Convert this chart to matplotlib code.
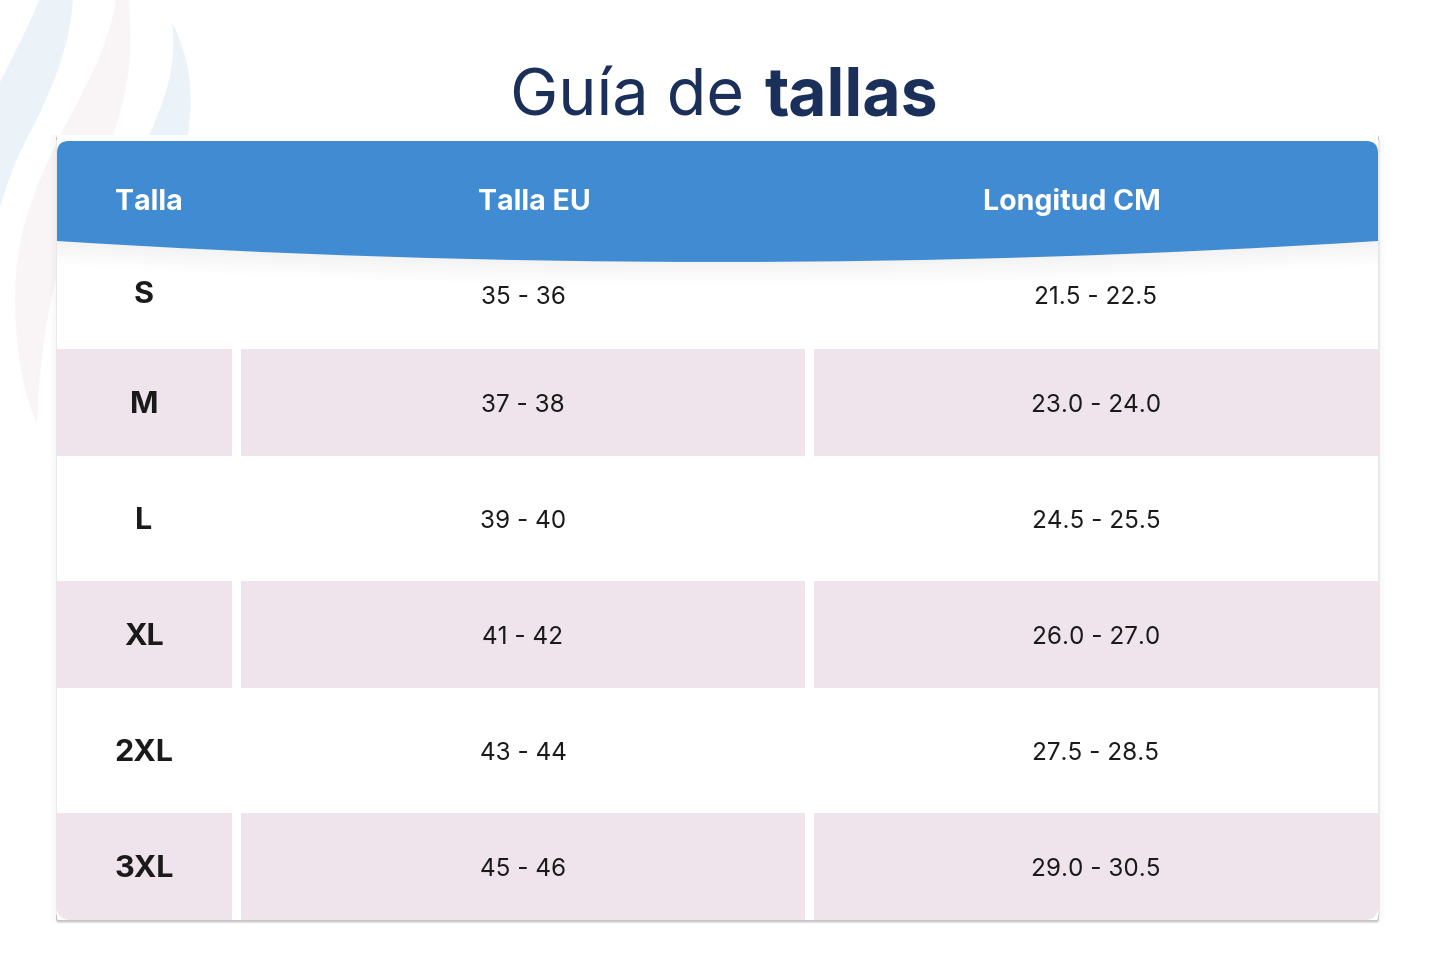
import matplotlib
matplotlib.use('Agg')
import matplotlib.pyplot as plt
from matplotlib.patches import PathPatch, Rectangle
from matplotlib.path import Path

FONT = 'Inter'

sizes = ['S', 'M', 'L', 'XL', '2XL', '3XL']
talla_eu = ['35 - 36', '37 - 38', '39 - 40', '41 - 42', '43 - 44', '45 - 46']
longitud = ['21.5 - 22.5', '23.0 - 24.0', '24.5 - 25.5', '26.0 - 27.0', '27.5 - 28.5', '29.0 - 30.5']
headers = ['Talla', 'Talla EU', 'Longitud CM']

BLUE = '#408bd1'
PINK = '#efe3ec'
NAVY = '#1b2f5b'
INK = '#1a1a1a'
W, H = 1445, 963
L, R = 57, 1378
COLS = [(57, 232), (241, 805), (814, 1378)]

fig = plt.figure(figsize=(W / 100, H / 100), dpi=100)
ax = fig.add_axes([0, 0, 1, 1])
ax.set_xlim(0, W)
ax.set_ylim(H, 0)
ax.axis('off')


def flame(verts, color):
    codes = [Path.MOVETO] + [Path.CURVE4] * (len(verts) - 2) + [Path.CLOSEPOLY]
    ax.add_patch(PathPatch(Path(verts, codes), fc=color, ec='none', zorder=1))


# background flames
flame([(40, -2), (28, 28), (12, 58), (0, 82), (-10, 110), (-10, 180), (0, 207),
       (10, 173), (20, 150), (33, 127), (50, 92), (70, 50), (73, -2), (40, -2), (40, -2)], '#ebf3f9')
flame([(115, -2), (115, 30), (90, 80), (63, 130), (30, 195), (15, 240), (15, 300),
       (15, 350), (25, 400), (37, 423), (38, 380), (45, 320), (57, 275), (80, 220), (100, 170), (113, 135),
       (125, 100), (135, 60), (128, -2), (115, -2), (115, -2)], '#f9f5f7')
flame([(172, 22), (176, 55), (172, 85), (149, 135), (165, 135), (175, 135), (188, 135),
       (194, 90), (190, 60), (172, 22), (172, 22)], '#ebf3f9')


def rounded_rect(x0, x1, y0, y1, tl=0, tr=0, br=0, bl=0, **kw):
    v = [(x0 + tl, y0), (x1 - tr, y0), (x1, y0), (x1, y0 + tr), (x1, y1 - br), (x1, y1), (x1 - br, y1),
         (x0 + bl, y1), (x0, y1), (x0, y1 - bl), (x0, y0 + tl), (x0, y0), (x0 + tl, y0), (x0 + tl, y0)]
    c = [Path.MOVETO, Path.LINETO, Path.CURVE3, Path.CURVE3, Path.LINETO, Path.CURVE3, Path.CURVE3,
         Path.LINETO, Path.CURVE3, Path.CURVE3, Path.LINETO, Path.CURVE3, Path.CURVE3, Path.CLOSEPOLY]
    p = PathPatch(Path(v, c), ec='none', **kw)
    ax.add_patch(p)
    return p


# card with soft shadow
for i in range(8):
    g = 8 - i
    rounded_rect(L - g, R + g, 135, 920 + g * 0.6, 0, 0, 8, 8, fc='#000000', alpha=0.004, zorder=2)
rounded_rect(L - 1, R + 1, 136, 923, 2, 2, 3, 3, fc='#e0e0e0', zorder=2.4)
rounded_rect(L - 1, R + 1, 136, 921.5, 2, 2, 3, 3, fc='#c4c4c4', zorder=2.5)
rounded_rect(L, R, 135, 920, 2, 2, 2, 2, fc='white', zorder=3)
ax.add_patch(Rectangle((L - 1.5, 140), 1.5, 775, fc='#e8e8e8', ec='none', zorder=2.6))
ax.add_patch(Rectangle((R, 140), 1.5, 775, fc='#e8e8e8', ec='none', zorder=2.6))


def header_path(dy=0):
    # flat top with rounded corners, curved bottom edge
    v = [(L + 12, 141), (R - 12, 141), (R, 141), (R, 153), (R, 241 + dy), (717, 283 + dy), (L, 241 + dy),
         (L, 153), (L, 141), (L + 12, 141), (L + 12, 141)]
    c = [Path.MOVETO, Path.LINETO, Path.CURVE3, Path.CURVE3, Path.LINETO, Path.CURVE3, Path.CURVE3,
         Path.LINETO, Path.CURVE3, Path.CURVE3, Path.CLOSEPOLY]
    return Path(v, c)


# shadow under the header
for dy in range(24, 0, -2):
    ax.add_patch(PathPatch(header_path(dy), fc='#000000', alpha=0.005, ec='none', zorder=3.5))
ax.add_patch(PathPatch(header_path(), fc=BLUE, ec='none', zorder=4))

# pink bands on every second row
band_tops = {1: 349, 3: 581, 5: 813}
for row, top in band_tops.items():
    for j, (x0, x1) in enumerate(COLS):
        last = row == len(sizes) - 1
        rounded_rect(x0, x1, top, top + 107,
                     bl=14 if last and j == 0 else 0,
                     br=14 if last and j == 2 else 0,
                     fc=PINK, zorder=3.2)

ax.text(510, 115, 'Guía de', fontsize=46.5, color=NAVY, family=FONT, weight='normal', va='baseline', ha='left', zorder=5)
ax.text(764, 115, 'tallas', fontsize=47.5, color=NAVY, family=FONT, weight='bold', va='baseline', ha='left', zorder=5)

for x, h in zip([149, 534, 1072], headers):
    ax.text(x, 210, h, fontsize=20.6, color='white', family=FONT, weight='bold', ha='center', va='baseline', zorder=5)

row_y = [295, 405, 521, 637, 753, 869]
eu_y = [298, 405, 521, 637, 753, 869]
for s, e, l, y, y2 in zip(sizes, talla_eu, longitud, row_y, eu_y):
    ax.text(144, y, s, fontsize=22, color=INK, family=FONT, weight='bold', ha='center', va='center', zorder=5)
    ax.text(523, y2, e, fontsize=17.5, color=INK, family=FONT, ha='center', va='center', zorder=5)
    ax.text(1096, y2, l, fontsize=17.5, color=INK, family=FONT, ha='center', va='center', zorder=5)

fig.savefig('out.png', dpi=100)
